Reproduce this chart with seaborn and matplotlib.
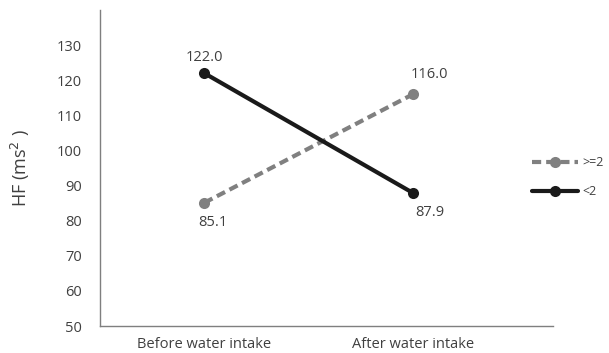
import matplotlib
matplotlib.use("Agg")
import matplotlib.pyplot as plt
import seaborn as sns
import pandas as pd
from matplotlib.lines import Line2D

categories = ["Before water intake", "After water intake"]
series_names = [">=2", "<2"]
values_ge2 = [85.1, 116.0]
values_lt2 = [122.0, 87.9]
yticks = [50, 60, 70, 80, 90, 100, 110, 120, 130]

sns.set_theme(style="white")
plt.rcParams['font.family'] = ['Open Sans', 'DejaVu Sans']

df = pd.DataFrame({
    "x": [0, 1, 0, 1],
    "group": [series_names[0]] * 2 + [series_names[1]] * 2,
    "val": values_ge2 + values_lt2,
})

fig = plt.figure(figsize=(6.09, 3.53), dpi=100)
ax = fig.add_axes([100/609, 1-326/353, (553-100)/609, (326-10)/353])

palette = {">=2": "#808080", "<2": "#1a1a1a"}
sns.lineplot(data=df, x="x", y="val", hue="group", style="group",
             palette=palette, dashes={">=2": (2.2, 1.2), "<2": ""},
             markers={">=2": "o", "<2": "o"}, markersize=8, markeredgewidth=0,
             linewidth=3, ax=ax, legend=False)

ax.set_xlim(-0.5, (553-202)/210)
ax.set_ylim(50, 140)
ax.set_yticks(yticks)
ax.set_xticks([0, 1])
ax.set_xticklabels(categories)
ax.tick_params(axis="both", length=0, labelsize=10.5, colors="#404040")
ax.tick_params(axis="y", pad=13)
ax.tick_params(axis="x", pad=8)
ax.set_xlabel("")
ax.set_ylabel("HF (ms$^2$ )", fontsize=13, color="#404040", labelpad=18)

for side in ["top", "right"]:
    ax.spines[side].set_visible(False)
for side in ["left", "bottom"]:
    ax.spines[side].set_color("#7f7f7f")
    ax.spines[side].set_linewidth(1)

tc = "#404040"
ax.annotate(f"{values_lt2[0]:.1f}", (0, values_lt2[0]), xytext=(0, 6), textcoords="offset points",
            ha="center", va="bottom", fontsize=10.5, color=tc)
ax.annotate(f"{values_ge2[1]:.1f}", (1, values_ge2[1]), xytext=(12, 9), textcoords="offset points",
            ha="center", va="bottom", fontsize=10.5, color=tc)
ax.annotate(f"{values_ge2[0]:.1f}", (0, values_ge2[0]), xytext=(6, -9), textcoords="offset points",
            ha="center", va="top", fontsize=10.5, color=tc)
ax.annotate(f"{values_lt2[1]:.1f}", (1, values_lt2[1]), xytext=(12, -9), textcoords="offset points",
            ha="center", va="top", fontsize=10.5, color=tc)

handles = [Line2D([], [], color=palette[">=2"], linestyle=(0, (2.2, 1.2)), lw=3, marker="o", markersize=8, markeredgewidth=0),
           Line2D([], [], color=palette["<2"], lw=3, marker="o", markersize=8, markeredgewidth=0)]
fig.legend(handles, series_names, loc="center left", bbox_to_anchor=(532/609, 1-177/353),
           frameon=False, fontsize=9, labelcolor=tc, handlelength=3.7, handletextpad=0.3,
           labelspacing=1.3, borderpad=0, borderaxespad=0)

fig.savefig("out.png", dpi=100)
